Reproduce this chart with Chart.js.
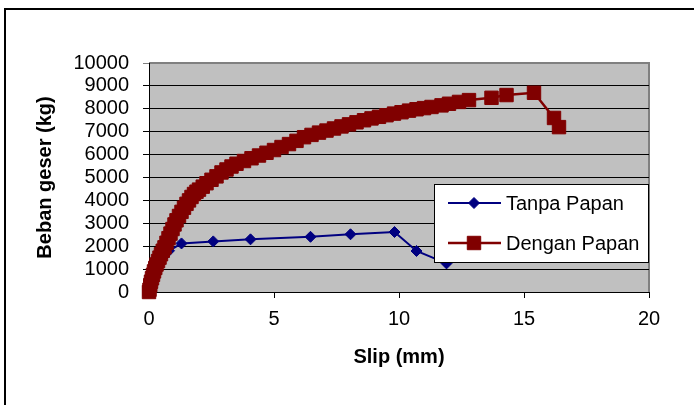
<!DOCTYPE html>
<html lang="id">
<head>
    <meta charset="UTF-8">
    <title>Beban geser vs Slip</title>
    <script src="https://cdn.jsdelivr.net/npm/chart.js"></script>
    <style>
        body, html {
            margin: 0;
            padding: 0;
            width: 694px;
            height: 405px;
            overflow: hidden;
            background: #fff;
            font-family: "Liberation Sans", Arial, sans-serif;
        }
        #frame {
            position: absolute;
            left: 4px;
            top: 8px;
            width: 720px;
            height: 440px;
            border: 2px solid #000;
        }
        #wrap {
            position: absolute;
            left: 0;
            top: 0;
            width: 694px;
            height: 405px;
        }
    </style>
</head>
<body>
    <div id="frame"></div>
    <div id="wrap"><canvas id="chart" width="694" height="405"></canvas></div>

    <script>
        // Slip (mm) and load (kg)
        const tanpaSlip = [0, 0.1, 0.2, 0.35, 0.55, 0.8, 1.3, 2.57, 4.06, 6.46, 8.06, 9.82, 10.7, 11.9];
        const tanpaBeban = [0, 300, 700, 1100, 1500, 1800, 2120, 2210, 2300, 2410, 2520, 2620, 1790, 1250];

        const denganSlip = [0, 0.02, 0.05, 0.08, 0.12, 0.16, 0.2, 0.25, 0.3, 0.36, 0.42, 0.48, 0.55, 0.62, 0.7,
            0.78, 0.86, 0.94, 1.02, 1.1, 1.2, 1.3, 1.4, 1.5, 1.6, 1.7, 1.8, 1.9, 2.0, 2.15, 2.3, 2.5, 2.7, 2.9,
            3.1, 3.3, 3.5, 3.8, 4.1, 4.4, 4.7, 5.0, 5.3, 5.6, 5.9, 6.2, 6.5, 6.8, 7.1, 7.4, 7.7, 8.0, 8.3, 8.6,
            8.9, 9.2, 9.5, 9.8, 10.1, 10.4, 10.7, 11.0, 11.3, 11.7, 12.0, 12.4, 12.8, 13.7, 14.3, 15.4, 16.2, 16.4];
        const denganBeban = [0, 100, 300, 450, 600, 750, 900, 1050, 1200, 1350, 1500, 1650, 1800, 1950, 2150,
            2350, 2550, 2750, 2950, 3130, 3320, 3500, 3680, 3850, 4000, 4150, 4280, 4380, 4470, 4600, 4750, 4900, 5050, 5220,
            5350, 5480, 5600, 5720, 5840, 5960, 6080, 6200, 6330, 6460, 6600, 6760, 6860, 6960, 7050, 7140, 7230, 7320, 7410, 7500,
            7580, 7650, 7720, 7790, 7850, 7920, 7980, 8030, 8080, 8150, 8220, 8300, 8380, 8480, 8600, 8700, 7600, 7200];

        const seriesNames = ['Tanpa Papan', 'Dengan Papan'];
        const xTitle = 'Slip (mm)';
        const yTitle = 'Beban geser (kg)';

        function toPoints(xs, ys) {
            return xs.map((x, i) => ({ x: x, y: ys[i] }));
        }

        Chart.defaults.font.family = '"Liberation Sans", Arial, sans-serif';
        Chart.defaults.font.size = 20;
        Chart.defaults.color = '#000';

        // grey plot area with a grey frame
        const plotBackground = {
            id: 'plotBackground',
            beforeDraw(chart) {
                const { ctx, chartArea: a } = chart;
                ctx.save();
                ctx.fillStyle = '#c0c0c0';
                ctx.fillRect(a.left, a.top, a.right - a.left, a.bottom - a.top);
                ctx.strokeStyle = '#808080';
                ctx.lineWidth = 2;
                ctx.beginPath();
                ctx.moveTo(a.left, a.top);
                ctx.lineTo(a.right, a.top);
                ctx.lineTo(a.right, a.bottom);
                ctx.stroke();
                ctx.restore();
            }
        };

        // legend box sitting inside the plot, lower right
        const boxLegend = {
            id: 'boxLegend',
            afterDraw(chart) {
                const ctx = chart.ctx;
                const bx = 434, by = 184, bw = 215, bh = 79;
                ctx.save();
                ctx.fillStyle = '#fff';
                ctx.fillRect(bx, by, bw, bh);
                ctx.strokeStyle = '#000';
                ctx.lineWidth = 1;
                ctx.strokeRect(bx + 0.5, by + 0.5, bw - 1, bh - 1);
                chart.data.datasets.forEach((ds, i) => {
                    const cy = 203 + i * 40;
                    ctx.strokeStyle = ds.borderColor;
                    ctx.lineWidth = ds.borderWidth;
                    ctx.beginPath();
                    ctx.moveTo(448, cy);
                    ctx.lineTo(501, cy);
                    ctx.stroke();
                    ctx.fillStyle = ds.pointBackgroundColor;
                    ctx.strokeStyle = ds.pointBorderColor;
                    ctx.lineWidth = 1;
                    Chart.helpers.drawPoint(ctx, {
                        pointStyle: ds.pointStyle,
                        radius: ds.pointRadius,
                        borderWidth: 1
                    }, 474, cy);
                    ctx.fillStyle = '#000';
                    ctx.font = '20px "Liberation Sans", Arial, sans-serif';
                    ctx.textBaseline = 'middle';
                    ctx.textAlign = 'left';
                    ctx.fillText(ds.label, 506, cy + 1);
                });
                ctx.restore();
            }
        };

        new Chart(document.getElementById('chart'), {
            type: 'line',
            data: {
                datasets: [{
                    label: seriesNames[0],
                    data: toPoints(tanpaSlip, tanpaBeban),
                    borderColor: '#000080',
                    backgroundColor: '#000080',
                    pointBackgroundColor: '#000080',
                    pointBorderColor: '#000080',
                    borderWidth: 2,
                    pointStyle: 'rectRot',
                    pointRadius: 5.5,
                    pointBorderWidth: 1,
                    tension: 0,
                    clip: 12,
                    order: 2
                }, {
                    label: seriesNames[1],
                    data: toPoints(denganSlip, denganBeban),
                    borderColor: '#800000',
                    backgroundColor: '#800000',
                    pointBackgroundColor: '#800000',
                    pointBorderColor: '#800000',
                    borderWidth: 2.5,
                    pointStyle: 'rect',
                    pointRadius: 9.5,
                    pointBorderWidth: 1,
                    tension: 0,
                    clip: 12,
                    order: 1
                }]
            },
            options: {
                responsive: false,
                maintainAspectRatio: false,
                animation: false,
                events: [],
                layout: {
                    padding: { left: 33, top: 63, right: 45, bottom: 36 }
                },
                plugins: {
                    legend: { display: false },
                    tooltip: { enabled: false }
                },
                scales: {
                    x: {
                        type: 'linear',
                        min: 0,
                        max: 20,
                        afterFit(scale) { scale.height = 77; },
                        ticks: { stepSize: 5, padding: 9, autoSkip: false, callback: v => String(v) },
                        grid: { drawOnChartArea: false, tickLength: 6, color: '#000' },
                        border: { color: '#000', width: 1 },
                        title: {
                            display: true,
                            text: xTitle,
                            font: { weight: 'bold', size: 20 },
                            padding: 0
                        }
                    },
                    y: {
                        min: 0,
                        max: 10000,
                        afterFit(scale) { scale.width = 116; },
                        ticks: { stepSize: 1000, padding: 14, autoSkip: false, callback: v => String(v) },
                        grid: {
                            tickLength: 6,
                            color: ctx => ctx.tick && ctx.tick.value === 10000 ? '#808080' : '#000'
                        },
                        border: { color: '#000', width: 1 },
                        title: {
                            display: true,
                            text: yTitle,
                            font: { weight: 'bold', size: 20 },
                            padding: 0
                        }
                    }
                }
            },
            plugins: [plotBackground, boxLegend]
        });
    </script>
</body>
</html>
